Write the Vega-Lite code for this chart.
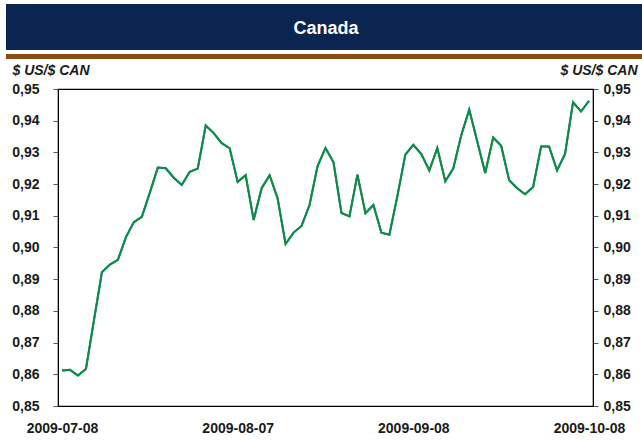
{
  "$schema": "https://vega.github.io/schema/vega-lite/v6.json",
  "padding": {"left": 11, "top": 4, "right": 0, "bottom": 0},
  "background": "white",
  "spacing": 0,
  "config": {
    "font": "Liberation Sans",
    "view": {"stroke": null}
  },
  "datasets": {
    "title": [{"label": "Canada"}],
    "fx": [
      {"date": "2009-07-08", "rate": 0.8612},
      {"date": "2009-07-09", "rate": 0.8614},
      {"date": "2009-07-10", "rate": 0.8596},
      {"date": "2009-07-13", "rate": 0.8617},
      {"date": "2009-07-14", "rate": 0.877},
      {"date": "2009-07-15", "rate": 0.8922},
      {"date": "2009-07-16", "rate": 0.8946},
      {"date": "2009-07-17", "rate": 0.8961},
      {"date": "2009-07-20", "rate": 0.9032},
      {"date": "2009-07-21", "rate": 0.9080},
      {"date": "2009-07-22", "rate": 0.9097},
      {"date": "2009-07-23", "rate": 0.9173},
      {"date": "2009-07-24", "rate": 0.9252},
      {"date": "2009-07-27", "rate": 0.9250},
      {"date": "2009-07-28", "rate": 0.9220},
      {"date": "2009-07-29", "rate": 0.9197},
      {"date": "2009-07-30", "rate": 0.9239},
      {"date": "2009-07-31", "rate": 0.9249},
      {"date": "2009-08-03", "rate": 0.9385},
      {"date": "2009-08-04", "rate": 0.9361},
      {"date": "2009-08-05", "rate": 0.9329},
      {"date": "2009-08-06", "rate": 0.9313},
      {"date": "2009-08-07", "rate": 0.9207},
      {"date": "2009-08-10", "rate": 0.9228},
      {"date": "2009-08-11", "rate": 0.9087},
      {"date": "2009-08-12", "rate": 0.9187},
      {"date": "2009-08-13", "rate": 0.9228},
      {"date": "2009-08-14", "rate": 0.9155},
      {"date": "2009-08-17", "rate": 0.9011},
      {"date": "2009-08-18", "rate": 0.9047},
      {"date": "2009-08-19", "rate": 0.9068},
      {"date": "2009-08-20", "rate": 0.9134},
      {"date": "2009-08-21", "rate": 0.9256},
      {"date": "2009-08-24", "rate": 0.9314},
      {"date": "2009-08-25", "rate": 0.9269},
      {"date": "2009-08-26", "rate": 0.9109},
      {"date": "2009-08-27", "rate": 0.9098},
      {"date": "2009-08-28", "rate": 0.9230},
      {"date": "2009-08-31", "rate": 0.9108},
      {"date": "2009-09-01", "rate": 0.9134},
      {"date": "2009-09-02", "rate": 0.9047},
      {"date": "2009-09-03", "rate": 0.9040},
      {"date": "2009-09-04", "rate": 0.9162},
      {"date": "2009-09-07", "rate": 0.9293},
      {"date": "2009-09-08", "rate": 0.9324},
      {"date": "2009-09-09", "rate": 0.9295},
      {"date": "2009-09-10", "rate": 0.9243},
      {"date": "2009-09-11", "rate": 0.9314},
      {"date": "2009-09-14", "rate": 0.9209},
      {"date": "2009-09-15", "rate": 0.9249},
      {"date": "2009-09-16", "rate": 0.9354},
      {"date": "2009-09-17", "rate": 0.9435},
      {"date": "2009-09-18", "rate": 0.9335},
      {"date": "2009-09-21", "rate": 0.9235},
      {"date": "2009-09-22", "rate": 0.9347},
      {"date": "2009-09-23", "rate": 0.9321},
      {"date": "2009-09-24", "rate": 0.9212},
      {"date": "2009-09-25", "rate": 0.9187},
      {"date": "2009-09-28", "rate": 0.9168},
      {"date": "2009-09-29", "rate": 0.9191},
      {"date": "2009-09-30", "rate": 0.9319},
      {"date": "2009-10-01", "rate": 0.9319},
      {"date": "2009-10-02", "rate": 0.9243},
      {"date": "2009-10-05", "rate": 0.9295},
      {"date": "2009-10-06", "rate": 0.9458},
      {"date": "2009-10-07", "rate": 0.9429},
      {"date": "2009-10-08", "rate": 0.9463}
    ]
  },
  "vconcat": [
    {
      "spacing": 0,
      "vconcat": [
        {
          "width": 584,
          "height": 46,
          "view": {"fill": "#0a2550", "stroke": null},
          "data": {"name": "title"},
          "mark": {"type": "text", "color": "white", "fontSize": 18, "fontWeight": "bold", "baseline": "middle", "align": "center", "dx": -24, "dy": 2},
          "encoding": {
            "text": {"field": "label"},
            "y": {
              "field": "label",
              "type": "nominal",
              "axis": {"title": null, "labels": false, "ticks": false, "domain": true, "domainColor": "#0a2550", "domainWidth": 104, "translate": 0, "grid": false}
            }
          }
        },
        {
          "width": 584,
          "height": 5,
          "view": {"fill": "#8b4a0e", "stroke": null},
          "data": {"name": "title"},
          "mark": {"type": "text", "text": ""},
          "encoding": {
            "y": {
              "field": "label",
              "type": "nominal",
              "axis": {"title": null, "labels": false, "ticks": false, "domain": true, "domainColor": "#8b4a0e", "domainWidth": 104, "translate": 0, "grid": false}
            }
          }
        }
      ]
    },
    {
      "width": 535,
      "height": 317,
      "view": {"stroke": "black", "strokeWidth": 1.2},
      "data": {"name": "fx"},
      "encoding": {
        "x": {
          "field": "date",
          "type": "ordinal",
          "scale": {"type": "point", "padding": 0.5},
          "axis": {
            "title": null,
            "values": ["2009-07-08", "2009-08-07", "2009-09-08", "2009-10-08"],
            "labelAngle": 0,
            "ticks": false,
            "domain": false,
            "labelPadding": 15,
            "labelFontSize": 14,
            "labelFontWeight": "bold",
            "labelColor": "#1a1a1a",
            "labelBaseline": "top"
          }
        },
        "y": {
          "field": "rate",
          "type": "quantitative",
          "scale": {"domain": [0.85, 0.95], "nice": false, "zero": false}
        }
      },
      "layer": [
        {
          "mark": {"type": "line", "color": "#0f8a4b", "strokeWidth": 2},
          "encoding": {
            "y": {
              "field": "rate",
              "type": "quantitative",
              "scale": {"domain": [0.85, 0.95], "nice": false, "zero": false},
              "axis": {
                "orient": "left",
                "title": "$ US/$ CAN",
                "titleAngle": 0,
                "titleAlign": "left",
                "titleBaseline": "alphabetic",
                "titleX": -46,
                "titleY": -15,
                "titleFontSize": 14,
                "titleFontWeight": "bold",
                "titleFontStyle": "italic",
                "titleColor": "#1a1a1a",
                "values": [0.85, 0.86, 0.87, 0.88, 0.89, 0.9, 0.91, 0.92, 0.93, 0.94, 0.95],
                "labelExpr": "replace(format(datum.value, '.2f'), '.', ',')",
                "labelFontSize": 14,
                "labelFontWeight": "bold",
                "labelColor": "#1a1a1a",
                "labelPadding": 14,
                "tickSize": 5,
                "tickColor": "#555555",
                "domainColor": "black",
                "grid": false
              }
            }
          }
        },
        {
          "mark": {"type": "line", "color": "#0f8a4b", "strokeWidth": 2},
          "encoding": {
            "y": {
              "field": "rate",
              "type": "quantitative",
              "scale": {"domain": [0.85, 0.95], "nice": false, "zero": false},
              "axis": {
                "orient": "right",
                "title": "$ US/$ CAN",
                "titleAngle": 0,
                "titleAlign": "right",
                "titleBaseline": "alphabetic",
                "titleX": 44,
                "titleY": -15,
                "titleFontSize": 14,
                "titleFontWeight": "bold",
                "titleFontStyle": "italic",
                "titleColor": "#1a1a1a",
                "values": [0.85, 0.86, 0.87, 0.88, 0.89, 0.9, 0.91, 0.92, 0.93, 0.94, 0.95],
                "labelExpr": "replace(format(datum.value, '.2f'), '.', ',')",
                "labelFontSize": 14,
                "labelFontWeight": "bold",
                "labelColor": "#1a1a1a",
                "labelPadding": 5,
                "tickSize": 5,
                "tickColor": "#555555",
                "domainColor": "black",
                "grid": false
              }
            }
          }
        }
      ],
      "resolve": {"axis": {"y": "independent"}}
    }
  ]
}
